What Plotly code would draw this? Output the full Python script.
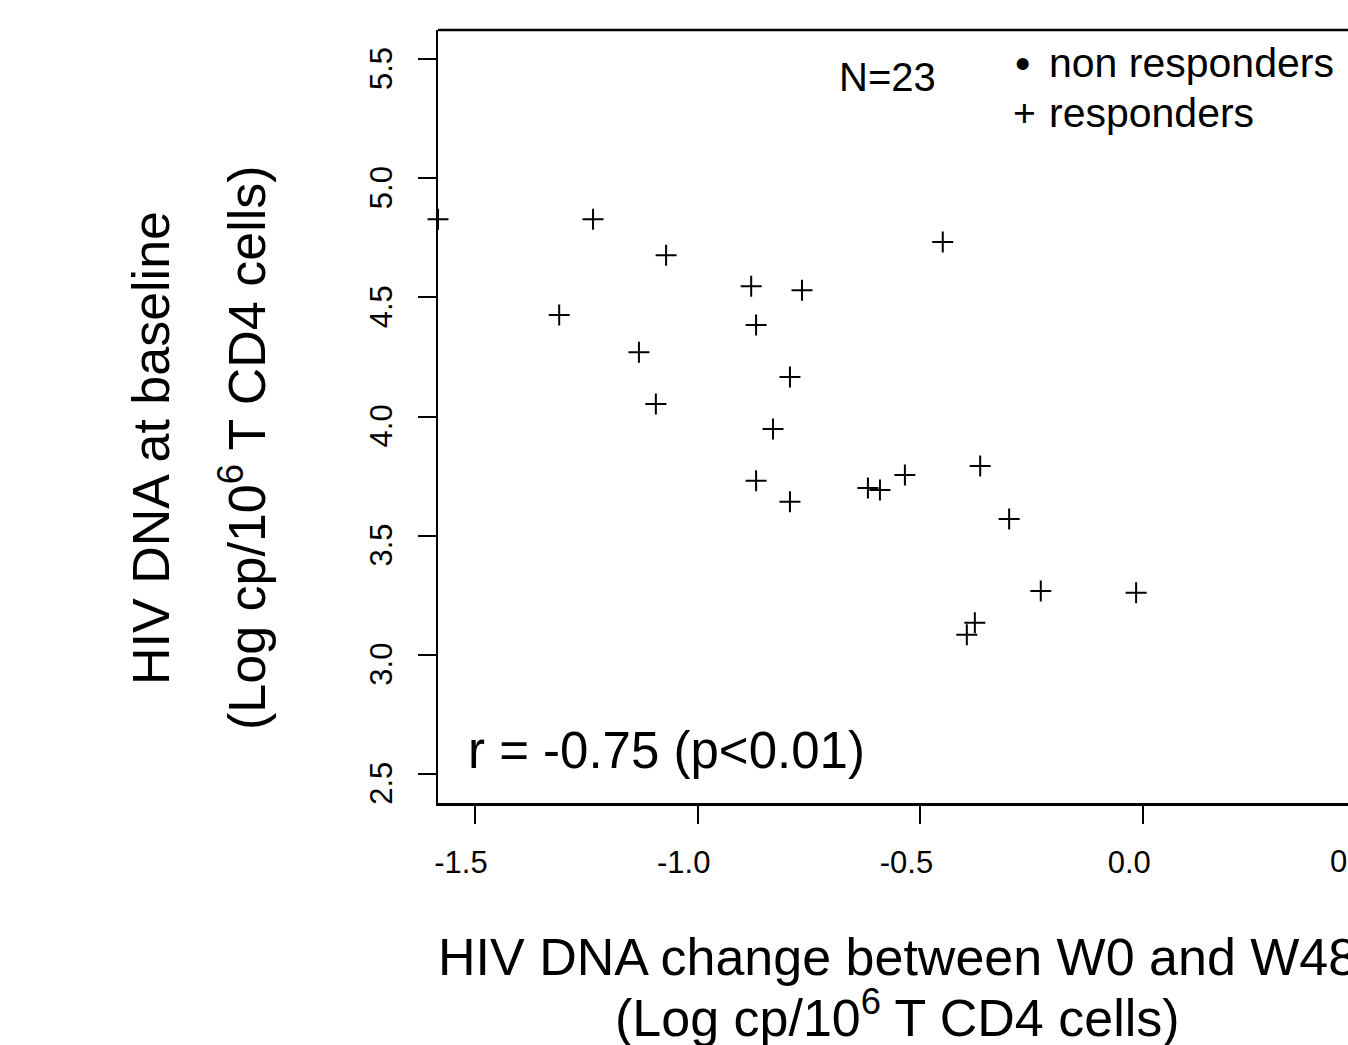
import plotly.graph_objects as go

# Data (responders, N=23)
resp_change = [-1.583, -1.235, -1.071, -1.311, -0.880, -0.766, -0.869, -1.132,
               -0.793, -1.094, -0.831, -0.869, -0.793, -0.618, -0.591, -0.535,
               -0.450, -0.366, -0.301, -0.230, -0.016, -0.378, -0.396]
resp_baseline = [4.828, 4.828, 4.677, 4.426, 4.547, 4.530, 4.384, 4.270,
                 4.166, 4.052, 3.948, 3.730, 3.642, 3.700, 3.692, 3.755,
                 4.732, 3.792, 3.570, 3.268, 3.260, 3.134, 3.084]

legend_labels = ["non responders", "responders"]
legend_symbols = ["\u2022", "+"]

x_ticks = [-1.5, -1.0, -0.5, 0.0, 0.5]
x_ticklabels = ["-1.5", "-1.0", "-0.5", "0.0", "0.5"]
y_ticks = [2.5, 3.0, 3.5, 4.0, 4.5, 5.0, 5.5]
y_ticklabels = ["2.5", "3.0", "3.5", "4.0", "4.5", "5.0", "5.5"]

FONT = "Liberation Sans, Arial, Helvetica, sans-serif"

W, H = 1348, 1045
L, T, B = 438, 30, 803
PW = W - L
PH = B - T
X_RANGE = [-1.583, 0.4596]

def px(xpix):
    return (xpix - L) / PW

def py(ypix):
    return (B - ypix) / PH

fig = go.Figure()
fig.add_trace(go.Scatter(
    x=resp_change, y=resp_baseline, mode="markers", name="responders",
    cliponaxis=False, showlegend=False, hoverinfo="skip",
    marker=dict(symbol="cross-thin", size=15, color="black",
                line=dict(color="black", width=2)),
))

fig.update_layout(
    width=W, height=H,
    margin=dict(l=L, r=0, t=T, b=H - B, pad=0),
    paper_bgcolor="white", plot_bgcolor="white",
    font=dict(family=FONT, color="black"),
    showlegend=False,
    xaxis=dict(range=X_RANGE, tickmode="array", tickvals=x_ticks,
               ticktext=x_ticklabels, showgrid=False, zeroline=False,
               showline=True, linecolor="black", linewidth=2.5,
               ticks="outside", ticklen=18, tickwidth=2, tickcolor="black",
               tickfont=dict(size=31, family=FONT, color="black"),
               ticklabelstandoff=12, ticklabelshift=-14),
    yaxis=dict(range=[2.378, 5.622], tickmode="array", tickvals=y_ticks,
               ticktext=y_ticklabels, showgrid=False, zeroline=False,
               showline=True, linecolor="black", linewidth=2.5,
               ticks="outside", ticklen=18, tickwidth=2, tickcolor="black",
               tickangle=-90,
               tickfont=dict(size=31, family=FONT, color="black"),
               ticklabelstandoff=13, ticklabelshift=14),
)

# top border of the box
fig.add_shape(type="line", xref="paper", yref="paper", x0=0, x1=1, y0=1, y1=1,
              line=dict(color="black", width=2.5))

# last x tick label (its tick lies just beyond the visible right edge)
last_tick_px = L + (x_ticks[-1] - X_RANGE[0]) / (X_RANGE[1] - X_RANGE[0]) * PW - 14
fig.add_annotation(text=x_ticklabels[-1], x=px(last_tick_px), y=py(862), xref="paper", yref="paper",
                   xanchor="center", yanchor="middle", showarrow=False,
                   font=dict(size=31, family=FONT, color="black"))

ann = [
    dict(text="HIV DNA at baseline", x=px(151), y=py(448), textangle=-90, size=52),
    dict(text="(Log cp/10<sup>6</sup> T CD4 cells)", x=px(243), y=py(448), textangle=-90, size=52),
    dict(text="HIV DNA change between W0 and W48", x=px(897), y=py(957), textangle=0, size=52),
    dict(text="(Log cp/10<sup>6</sup> T CD4 cells)", x=px(897), y=py(1014), textangle=0, size=52),
    dict(text="N=23", x=px(887), y=py(77), textangle=0, size=40),
]
for a in ann:
    fig.add_annotation(text=a["text"], x=a["x"], y=a["y"], xref="paper", yref="paper",
                       xanchor="center", yanchor="middle", textangle=a["textangle"],
                       showarrow=False, font=dict(size=a["size"], family=FONT, color="black"))

fig.add_annotation(text="r = -0.75 (p<0.01)", x=px(466), y=py(750), xref="paper", yref="paper",
                   xanchor="left", yanchor="middle", showarrow=False,
                   font=dict(size=51, family=FONT, color="black"))

# legend (drawn as text)
leg_rows = [63, 113]
sym_x = [1022, 1024]
sym_sizes = [44, 39]
for lab, sym, yy, sx, ss in zip(legend_labels, legend_symbols, leg_rows, sym_x, sym_sizes):
    fig.add_annotation(text=sym, x=px(sx), y=py(yy), xref="paper", yref="paper",
                       xanchor="center", yanchor="middle", showarrow=False,
                       font=dict(size=ss, family=FONT, color="black"))
    fig.add_annotation(text=lab, x=px(1047), y=py(yy), xref="paper", yref="paper",
                       xanchor="left", yanchor="middle", showarrow=False,
                       font=dict(size=41, family=FONT, color="black"))

fig.write_html("out.html", config={"displayModeBar": False, "staticPlot": True},
               post_script="document.body.style.margin='0';")
